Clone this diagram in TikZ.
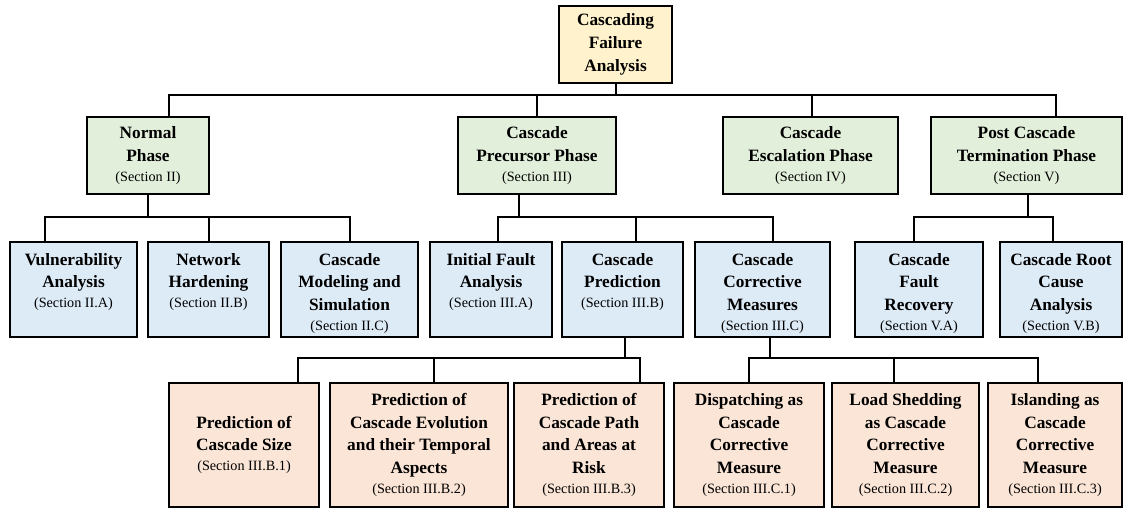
\documentclass[tikz,border=0pt]{standalone}
\usepackage{fontspec}
\setmainfont{Liberation Serif}
\usepackage{tikz}

\definecolor{rootfill}{HTML}{FFF2CC}
\definecolor{phasefill}{HTML}{E2EFDA}
\definecolor{topicfill}{HTML}{DDEBF7}
\definecolor{subfill}{HTML}{FBE5D6}

\newcommand{\sectlabel}[1]{\\[-2.7pt]{\fontsize{14.2}{17}\selectfont\mdseries #1}}
\newcommand{\cellc}[3]{\parbox[c][#2pt][c]{#1pt}{\centering #3}}
\newcommand{\cellt}[3]{\parbox[c][#2pt][t]{#1pt}{\centering\rule{0pt}{23pt}#3}}

\tikzset{
	box/.style={draw=black, line width=1.2pt, inner sep=0pt, font=\fontsize{17.3}{22.7}\selectfont\bfseries},
	rootbox/.style={box, fill=rootfill},
	phasebox/.style={box, fill=phasefill},
	topicbox/.style={box, fill=topicfill},
	subbox/.style={box, fill=subfill},
	link/.style={line width=1.2pt}
}

\begin{document}
\begin{tikzpicture}[x=1pt, y=-1pt]
		\useasboundingbox (0,0) rectangle (1124,508);

		\node[rootbox] (root) at (615.5,44.5) {\cellc{113}{77}{Cascading\\Failure\\Analysis}};

		% fasi
		\node[phasebox] (normal) at (148,155.5) {\cellc{122}{77}{Normal\\Phase\sectlabel{(Section II)}}};
		\node[phasebox] (prec) at (537,155.5) {\cellc{158}{77}{Cascade\\Precursor Phase\sectlabel{(Section III)}}};
		\node[phasebox] (escal) at (810.5,155.5) {\cellc{175}{77}{Cascade\\Escalation Phase\sectlabel{(Section IV)}}};
		\node[phasebox] (post) at (1026.5,155.5) {\cellc{191}{77}{Post Cascade\\Termination Phase\sectlabel{(Section V)}}};

		% argomenti
		\node[topicbox] (vuln) at (73.5,289.5) {\cellt{127}{95}{Vulnerability\\Analysis\sectlabel{(Section II.A)}}};
		\node[topicbox] (net) at (208.5,289.5) {\cellt{121}{95}{Network\\Hardening\sectlabel{(Section II.B)}}};
		\node[topicbox] (model) at (349.5,289.5) {\cellt{137}{95}{Cascade\\Modeling and\\Simulation\sectlabel{(Section II.C)}}};
		\node[topicbox] (init) at (491,289.5) {\cellt{122}{95}{Initial Fault\\Analysis\sectlabel{(Section III.A)}}};
		\node[topicbox] (pred) at (622.5,289.5) {\cellt{121}{95}{Cascade\\Prediction\sectlabel{(Section III.B)}}};
		\node[topicbox] (corr) at (762.5,289.5) {\cellt{135}{95}{Cascade\\Corrective\\Measures\sectlabel{(Section III.C)}}};
		\node[topicbox] (recov) at (919,289.5) {\cellt{128}{95}{Cascade\\Fault\\Recovery\sectlabel{(Section V.A)}}};
		\node[topicbox] (rootc) at (1061,289.5) {\cellt{122}{95}{Cascade Root\\Cause\\Analysis\sectlabel{(Section V.B)}}};

		% sotto-argomenti
		\node[subbox] (size) at (244,445) {\cellc{150}{124}{Prediction of\\Cascade Size\sectlabel{(Section III.B.1)}}};
		\node[subbox] (evol) at (419,445) {\cellc{178}{124}{Prediction of\\Cascade Evolution\\and their Temporal\\Aspects\sectlabel{(Section III.B.2)}}};
		\node[subbox] (path) at (589,445) {\cellc{150}{124}{Prediction of\\Cascade Path\\and Areas at\\Risk\sectlabel{(Section III.B.3)}}};
		\node[subbox] (disp) at (749,445) {\cellc{150}{124}{Dispatching as\\Cascade\\Corrective\\Measure\sectlabel{(Section III.C.1)}}};
		\node[subbox] (shed) at (905.5,445) {\cellc{147}{124}{Load Shedding\\as Cascade\\Corrective\\Measure\sectlabel{(Section III.C.2)}}};
		\node[subbox] (isl) at (1055,445) {\cellc{134}{124}{Islanding as\\Cascade\\Corrective\\Measure\sectlabel{(Section III.C.3)}}};

		% punti di attacco
		\coordinate (busA) at (0,95);
		\coordinate (busB) at (0,217);
		\coordinate (busC) at (0,358);
		\foreach \n/\s in {root/0.5, normal/0, prec/-18, post/1.5, pred/2.5, corr/7.5}
			\coordinate (\n-out) at ([xshift=\s pt]\n.south);
		\foreach \n/\s in {normal/21, prec/0, escal/1.5, post/29.5, vuln/-28.5, net/0.5, model/0.5, init/7, pred/13.5, corr/10.5, recov/-5, rootc/-8, size/54, evol/15, path/51, disp/0, shed/-11.5, isl/-17}
			\coordinate (\n-in) at ([xshift=\s pt]\n.north);

		% radice -> fasi
		\draw[link] (root-out) -- (root-out |- busA);
		\draw[link] (normal-in) |- (post-in |- busA) -- (post-in);
		\foreach \n in {prec, escal} \draw[link] (\n-in) -- (\n-in |- busA);

		% fasi -> argomenti
		\draw[link] (normal-out) -- (normal-out |- busB);
		\draw[link] (vuln-in) |- (model-in |- busB) -- (model-in);
		\draw[link] (net-in) -- (net-in |- busB);

		\draw[link] (prec-out) -- (prec-out |- busB);
		\draw[link] (init-in) |- (corr-in |- busB) -- (corr-in);
		\draw[link] (pred-in) -- (pred-in |- busB);

		\draw[link] (post-out) -- (post-out |- busB);
		\draw[link] (recov-in) |- (rootc-in |- busB) -- (rootc-in);

		% argomenti -> sotto-argomenti
		\draw[link] (pred-out) -- (pred-out |- busC);
		\draw[link] (size-in) |- (path-in |- busC) -- (path-in);
		\draw[link] (evol-in) -- (evol-in |- busC);

		\draw[link] (corr-out) -- (corr-out |- busC);
		\draw[link] (disp-in) |- (isl-in |- busC) -- (isl-in);
		\draw[link] (shed-in) -- (shed-in |- busC);
\end{tikzpicture}
\end{document}
